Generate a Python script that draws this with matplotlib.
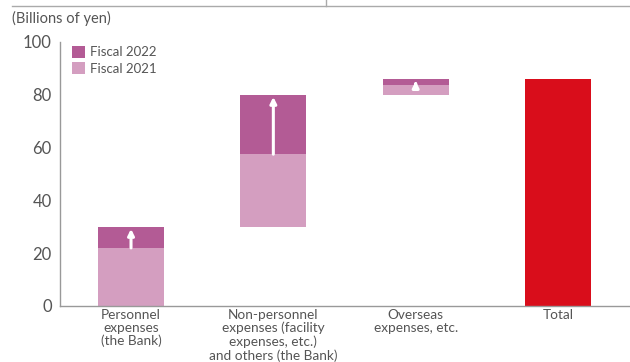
import matplotlib.pyplot as plt

categories = ['Personnel\nexpenses\n(the Bank)',
              'Non-personnel\nexpenses (facility\nexpenses, etc.)\nand others (the Bank)',
              'Overseas\nexpenses, etc.',
              'Total']
base = [0, 30, 80]        # where each step starts
fy2021_top = [22, 57.5, 83.7]
fy2022_top = [30, 80, 86]
total = 86
yticks = [0, 20, 40, 60, 80, 100]

c22 = '#b35b95'
c21 = '#d49ec0'
cred = '#d90d1b'
grey = '#555555'

plt.rcParams['font.family'] = ['Lato', 'DejaVu Sans']

fig = plt.figure(figsize=(6.3, 3.62), dpi=100)
ax = fig.add_axes([60/630, 1-306/362, 570/630, 264/362])

x = range(3)
w = 0.464
b21 = [t - b for t, b in zip(fy2021_top, base)]
b22 = [t - b for t, b in zip(fy2022_top, fy2021_top)]
ax.bar(x, b21, w, bottom=base, color=c21, label='Fiscal 2021')
ax.bar(x, b22, w, bottom=fy2021_top, color=c22, label='Fiscal 2022')
ax.bar([3], [total], w, color=cred)

# white arrows inside the fiscal 2022 part
for i in x:
    lo, hi = fy2021_top[i], fy2022_top[i]
    ax.annotate('', xy=(i, hi - 0.8), xytext=(i, lo),
                arrowprops=dict(arrowstyle='-|>', color='white', lw=2.2,
                                mutation_scale=9, shrinkA=0, shrinkB=0))

ax.set_xlim(-0.499, 3.506)
ax.set_ylim(0, 100)
ax.set_yticks(yticks)
ax.set_xticks(range(4))
ax.set_xticklabels(categories, fontsize=9.8, color=grey, linespacing=1.1,
                   va='top')
ax.tick_params(axis='y', length=0, labelsize=12, labelcolor=grey, pad=6)
ax.tick_params(axis='x', length=0, pad=2)
for s in ['top', 'right']:
    ax.spines[s].set_visible(False)
for s in ['left', 'bottom']:
    ax.spines[s].set_color('#999999')
    ax.spines[s].set_linewidth(1)

h, l = ax.get_legend_handles_labels()
ax.legend(h[::-1], l[::-1], loc='upper left', bbox_to_anchor=(0.0, 1.03),
          frameon=False, fontsize=9.5, labelcolor=grey, handlelength=1.0,
          handleheight=1.0, handletextpad=0.4, labelspacing=0.3)

fig.text(12/630, 1-18/362, '(Billions of yen)', fontsize=10.5, color=grey,
         va='center', ha='left')

# cut-off frame line from the section above
fig.add_artist(plt.Line2D([12/630, 1], [1-6/362, 1-6/362], color='#aaaaaa', lw=1))
fig.add_artist(plt.Line2D([326/630, 326/630], [1-6/362, 1], color='#aaaaaa', lw=1))

fig.savefig('out.png', dpi=100)
